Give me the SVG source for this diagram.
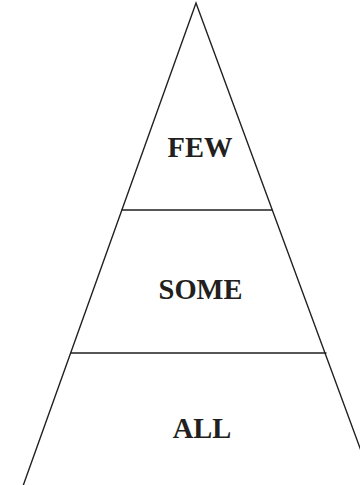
<svg xmlns="http://www.w3.org/2000/svg" width="360" height="485" viewBox="0 0 360 485">
<style>
.ln{stroke:#231f20;stroke-width:1.4;fill:none;stroke-linecap:round}
.lb{font-family:"Liberation Serif","Times New Roman",serif;font-weight:bold;font-size:28.5px;fill:#231f20;text-anchor:middle}
</style>
<rect width="360" height="485" fill="#fff"/>
<g id="connectors">
<path class="ln" d="M23,486 L196,3 L374,486"/>
</g>
<g id="few"><text class="lb" x="200" y="157">FEW</text></g>
<g id="divider1"><line class="ln" x1="122" y1="210" x2="272" y2="210"/></g>
<g id="some"><text class="lb" x="200.5" y="299">SOME</text></g>
<g id="divider2"><line class="ln" x1="71" y1="353" x2="326" y2="353"/></g>
<g id="all"><text class="lb" x="202" y="438">ALL</text></g>
</svg>
